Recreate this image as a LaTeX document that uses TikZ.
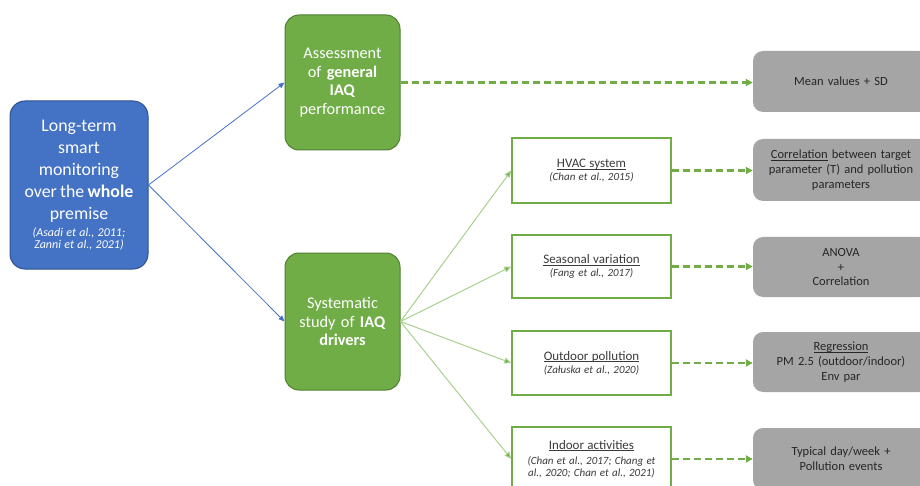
\documentclass[tikz,border=0pt]{standalone}
\usepackage{fontspec}
\setmainfont{Carlito}
\usetikzlibrary{arrows.meta}
\definecolor{boxblue}{HTML}{4472C4}
\definecolor{boxblueedge}{HTML}{2F528F}
\definecolor{boxgreen}{HTML}{70AD47}
\definecolor{boxgreenedge}{HTML}{507E32}
\definecolor{lightgreen}{HTML}{A9D18E}
\definecolor{boxgrey}{HTML}{A5A5A5}
\definecolor{textgrey}{HTML}{3A3A3A}
% font switches for the different text roles
\newcommand\mainfont{\fontsize{17.8}{22}\selectfont}
\newcommand\smallcite{\fontsize{12}{13.5}\selectfont\itshape}
\newcommand\drvtitle{\fontsize{13}{16}\selectfont}
\newcommand\refit{\fontsize{11}{14.5}\selectfont\itshape}
% underline drawn just below the baseline
\newsavebox\ulbox
\newcommand\ulined[1]{\sbox\ulbox{#1}\rlap{\rule[-1.8pt]{\wd\ulbox}{0.7pt}}\usebox\ulbox}
\tikzset{
  mainbox/.style={draw=boxblueedge, line width=1pt, fill=boxblue, rounded corners=15pt,
    text=white, align=center, inner sep=0pt, text width=134pt},
  greenbox/.style={draw=boxgreenedge, line width=1pt, fill=boxgreen, rounded corners=14pt,
    text=white, align=center, inner sep=0pt, minimum width=115pt, text width=112pt,
    font=\fontsize{16.3}{18.5}\selectfont},
  driverbox/.style={draw=boxgreen, line width=1.5pt, fill=white, align=center,
    minimum width=159pt, text width=157pt, inner sep=0pt, text=textgrey},
  resultbox/.style={draw=none, fill=boxgrey, rounded corners=10pt, align=center,
    minimum width=176pt, text width=172pt, inner sep=0pt, text=black!85,
    font=\fontsize{12.5}{14.8}\selectfont},
  bluelink/.style={draw=boxblue, line width=0.8pt, -{Triangle[length=6pt,width=5pt]}},
  greenlink/.style={draw=lightgreen, line width=1pt, -{Triangle[length=7pt,width=6pt,fill=boxgreen]}},
  dashlink/.style={draw=boxgreen, line width=2.5pt, dash pattern=on 7pt off 4pt,
    -{Triangle[length=7pt,width=7pt]}}
}
\begin{document}
\begin{tikzpicture}[x=1pt,y=-1pt]
\useasboundingbox (0,0) rectangle (920,486);
\clip (0,0) rectangle (920,486);

% starting point: the monitoring campaign
\node[mainbox, minimum width=138pt, minimum height=168pt] (mon) at (79,185)
  {\mainfont Long-term\\ smart\\ monitoring\\ over the \textbf{whole}\\ premise\par
   \vspace{3pt}\smallcite (Asadi et al., 2011;\\ Zanni et al., 2021)};

% two lines of analysis
\node[greenbox, minimum height=135pt] (gen) at (342.5,82.5)
  {Assessment\\ of \textbf{general}\\ \textbf{IAQ}\\ performance};
\node[greenbox, minimum height=137pt] (drv) at (342.5,321.5)
  {Systematic\\ study of \textbf{IAQ}\\ \textbf{drivers}};

% drivers of indoor air quality
\node[driverbox, minimum height=65pt] (hvac) at (591.5,170.5)
  {\drvtitle\ulined{HVAC system}\par\vspace{1pt} \refit (Chan et al., 2015)};
\node[driverbox, minimum height=63pt] (seas) at (591.5,266.5)
  {\drvtitle\ulined{Seasonal variation}\par\vspace{1pt} \refit (Fang et al., 2017)};
\node[driverbox, minimum height=64pt] (outd) at (591.5,363)
  {\drvtitle\ulined{Outdoor pollution}\par\vspace{1pt} \refit (Załuska et al., 2020)};
\node[driverbox, minimum height=64pt] (indo) at (591.5,459)
  {\drvtitle\ulined{Indoor activities}\par\vspace{1pt}
   \refit (Chan et al., 2017; Chang et\\ al., 2020; Chan et al., 2021)};

% statistical treatment
\node[resultbox, minimum height=61pt] (mean) at (841,81.5) {Mean values + SD};
\node[resultbox, minimum height=62pt] (corr) at (841,170)
  {\ulined{Correlation} between target\\ parameter (T) and pollution\\ parameters};
\node[resultbox, minimum height=60pt] (anova) at (841,267) {ANOVA\\ +\\ Correlation};
\node[resultbox, minimum height=60pt] (regr) at (841,362)
  {\ulined{Regression}\\ PM 2.5 (outdoor/indoor)\\ Env par};
\node[resultbox, minimum height=62pt] (typ) at (841,459)
  {Typical day/week +\\ Pollution events};

% connectors
\draw[bluelink] (mon.east) -- (gen.west);
\draw[bluelink] (mon.east) -- (drv.west);

\draw[greenlink] (drv.east) -- (hvac.west);
\draw[greenlink] (drv.east) -- (seas.west);
\draw[greenlink] (drv.east) -- (outd.west);
\draw[greenlink] (drv.east) -- (indo.west);

\draw[dashlink] (gen.east) -- (gen.east -| mean.west);
\draw[dashlink] (hvac.east) -- (hvac.east -| corr.west);
\draw[dashlink] (seas.east) -- (seas.east -| anova.west);
\draw[dashlink] (outd.east) -- (outd.east -| regr.west);
\draw[dashlink] (indo.east) -- (indo.east -| typ.west);
\end{tikzpicture}
\end{document}
